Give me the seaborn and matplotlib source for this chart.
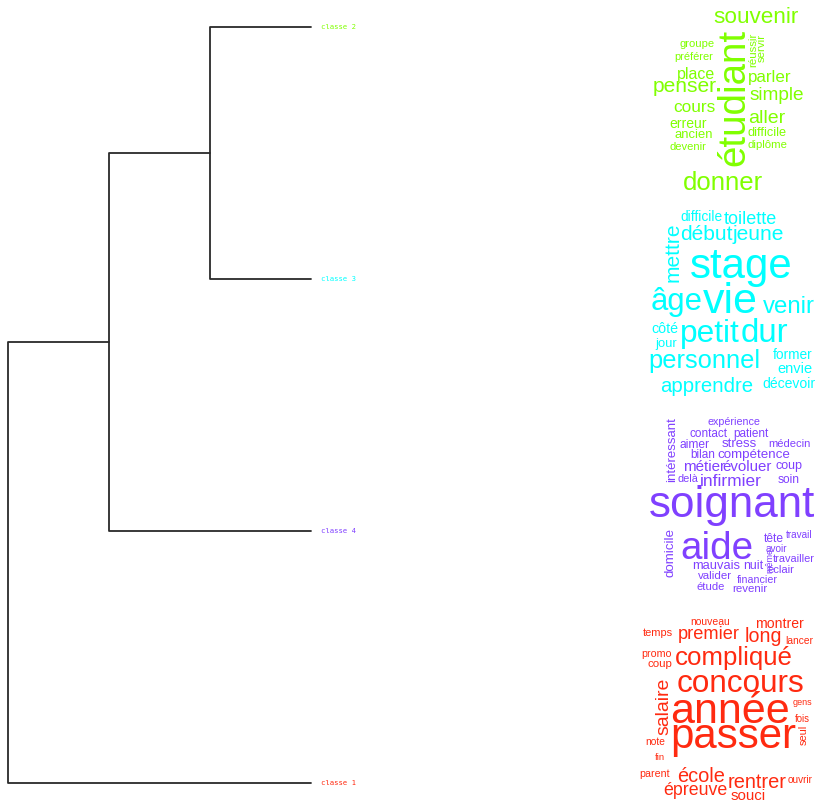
import numpy as np
import pandas as pd
import matplotlib
matplotlib.use("Agg")
import matplotlib.pyplot as plt
import seaborn as sns

# dendrogram data: leaves in display order, then merges (scipy-like ids)
leaf_labels = ["classe 2", "classe 3", "classe 4", "classe 1"]
leaf_colors = ["#80FF00", "#00FFFF", "#8040FF", "#FF2A10"]
merge_a = [0, 4, 5]
merge_b = [1, 2, 3]
merge_h = [1.0, 2.0, 3.0]

# word clouds: words and frequencies (shown as font size, px)
words_c2 = ["souvenir", "étudiant", "groupe", "préférer", "réussir", "servir", "place",
            "parler", "penser", "simple", "cours", "aller", "erreur", "ancien",
            "difficile", "devenir", "diplôme", "donner"]
freq_c2 = [22.5, 38.5, 11.2, 11, 11.5, 11.5, 16, 17, 21, 19, 17.3, 19.5, 14, 13, 12.8, 11.3, 11.4, 25.7]

words_c3 = ["difficile", "toilette", "mettre", "début", "jeune", "stage", "âge", "vie",
            "venir", "côté", "jour", "petit", "dur", "former", "envie", "personnel",
            "apprendre", "décevoir"]
freq_c3 = [13.7, 18, 21, 21, 21, 42, 31, 43, 24, 14.3, 13, 31.7, 33, 13.8, 14.6, 25.5, 20.4, 14]

words_c4 = ["expérience", "intéressant", "contact", "patient", "aimer", "stress", "médecin",
            "bilan", "compétence", "métier", "évoluer", "coup", "delà", "infirmier", "soin",
            "soignant", "domicile", "aide", "tête", "travail", "avoir", "travailler", "même",
            "éclair", "mauvais", "nuit", "valider", "financier", "étude", "revenir"]
freq_c4 = [10.8, 13.3, 11.8, 11.7, 12, 13.1, 11.1, 11.8, 13.4, 15.1, 15, 12.5, 11, 17.4, 12,
           44, 13.4, 38.6, 12, 10, 10, 11, 9, 11.3, 12.9, 12.4, 11.5, 10.6, 11.2, 11.5]

words_c1 = ["nouveau", "montrer", "temps", "premier", "long", "lancer", "promo", "coup",
            "compliqué", "salaire", "concours", "gens", "année", "fois", "seul", "note",
            "passer", "fin", "parent", "école", "rentrer", "ouvrir", "épreuve", "souci"]
freq_c1 = [10.4, 14, 11, 18.3, 19.6, 10.3, 10.6, 11.5, 25.9, 19.4, 31.5, 9, 43, 9.6, 11,
           10.3, 42, 9.5, 10.6, 20, 20, 10, 17.7, 15]

# layout of each cloud (pixel x centre, baseline y, rotation)
pos_c2 = [(755.5, 23, 0), (744, 97.5, 90), (697.5, 47, 0), (694, 59.5, 0), (756, 49.5, 90),
          (765, 48, 90), (696, 78.5, 0), (769.5, 82, 0), (685, 92.5, 0), (777, 100, 0),
          (694, 111.5, 0), (766.5, 123, 0), (688.5, 127.5, 0), (694, 138.5, 0),
          (767.5, 136, 0), (687.5, 149.5, 0), (767, 148.5, 0), (723, 190.5, 0)]
pos_c3 = [(701, 220.7, 0), (750.5, 224.3, 0), (679, 252, 90), (706, 240, 0), (758, 240, 0),
          (741.5, 278.3, 0), (676.5, 310, 0), (730.5, 313.3, 0), (789, 313.3, 0),
          (664.5, 333.3, 0), (666, 346.7, 0), (710, 341.7, 0), (764, 341.7, 0),
          (793, 359.3, 0), (794.5, 373.3, 0), (704, 368.3, 0), (706.5, 391.7, 0),
          (788.5, 388.3, 0)]
pos_c4 = [(733.5, 425, 0), (675, 449.5, 90), (709, 436.7, 0), (750.5, 436.7, 0),
          (695, 448.3, 0), (739.5, 447.3, 0), (789, 447.3, 0), (702.5, 458.3, 0),
          (753.5, 457.7, 0), (704, 471, 0), (747.5, 471, 0), (788.5, 469.3, 0),
          (687.5, 481.7, 0), (731, 486, 0), (789, 483.3, 0), (731.5, 516.7, 0),
          (673, 552, 90), (716.5, 559, 0), (774, 542, 0), (799.5, 538, 0), (776, 552, 0),
          (793.5, 562, 0), (772, 560, 90), (781, 573, 0), (716, 569, 0), (753, 569, 0),
          (715, 579, 0), (757, 583, 0), (711, 590, 0), (749.5, 592, 0)]
pos_c1 = [(710, 625, 0), (779, 628.3, 0), (658, 636, 0), (709, 639.3, 0), (763.5, 641.7, 0),
          (799, 644, 0), (657, 656.7, 0), (659.5, 666.7, 0), (734, 665, 0), (668, 706.5, 90),
          (741, 691.7, 0), (802.5, 705, 0), (730, 723.3, 0), (802.5, 721.7, 0), (807, 735, 90),
          (655, 745, 0), (733.5, 747.5, 0), (660, 760, 0), (655, 776.7, 0), (701, 781.7, 0),
          (757.5, 788.3, 0), (800.5, 783.3, 0), (695, 795, 0), (748.5, 800, 0)]

sns.set_theme(style="white")
plt.rcParams["font.family"] = ["Liberation Sans", "DejaVu Sans"]

fig = plt.figure(figsize=(8.21, 8.05), dpi=100)
fig.patch.set_facecolor("white")

# word clouds in pixel coordinates
ax_wc = fig.add_axes([0, 0, 1, 1])
ax_wc.set_xlim(0, 821)
ax_wc.set_ylim(805, 0)
ax_wc.axis("off")

clouds = [(words_c2, freq_c2, pos_c2, leaf_colors[0]),
          (words_c3, freq_c3, pos_c3, leaf_colors[1]),
          (words_c4, freq_c4, pos_c4, leaf_colors[2]),
          (words_c1, freq_c1, pos_c1, leaf_colors[3])]
for words, freq, pos, col in clouds:
    for w, f, (x, y, r) in zip(words, freq, pos):
        ax_wc.text(x, y, w, fontsize=f * 0.72, color=col, ha="center", va="baseline",
                   rotation=r, rotation_mode="anchor")

# dendrogram
n = len(leaf_labels)
node_y = list(range(n))
node_h = [0.0] * n
rows = []
for k, (a, b, h) in enumerate(zip(merge_a, merge_b, merge_h)):
    ya, yb = node_y[a], node_y[b]
    for pt_h, pt_y in [(node_h[a], ya), (h, ya), (h, yb), (node_h[b], yb)]:
        rows.append({"link": k, "height": pt_h, "pos": pt_y})
    node_y.append((ya + yb) / 2)
    node_h.append(h)
links = pd.DataFrame(rows)

ax = fig.add_axes([8 / 821, 22 / 805, 303 / 821, 756 / 805])
sns.lineplot(data=links, x="height", y="pos", units="link", estimator=None, sort=False,
             color="#2a2a2a", linewidth=1.3, ax=ax, legend=False)
for line in ax.lines:
    line.set_clip_on(False)
ax.set_xlim(max(merge_h), 0)
ax.set_ylim(n - 1, 0)
ax.axis("off")

for i, (lab, col) in enumerate(zip(leaf_labels, leaf_colors)):
    ax.annotate(lab, xy=(0, i), xytext=(7, 0), textcoords="offset points",
                ha="left", va="center", fontsize=5.2, color=col, family="DejaVu Sans Mono")

fig.savefig("out.png", dpi=100, facecolor="white")
